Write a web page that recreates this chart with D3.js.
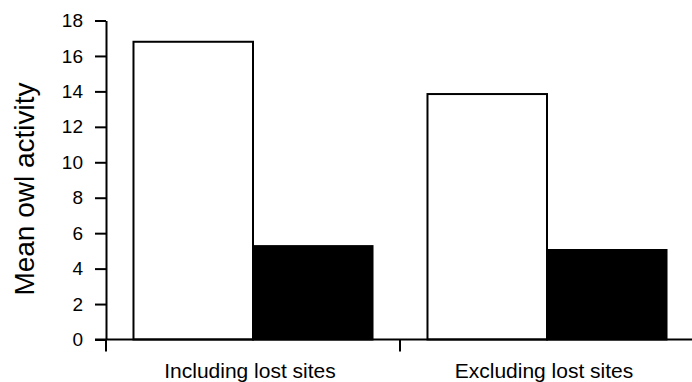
<!DOCTYPE html>
<html>
<head>
<meta charset="utf-8">
<script src="https://cdn.jsdelivr.net/npm/d3@7"></script>
<style>
  body { margin: 0; background: #fff; }
  svg text { font-family: "Liberation Sans", Arial, sans-serif; fill: #000; }
</style>
</head>
<body>
<div id="chart"></div>
<script>
const categories = ["Including lost sites", "Excluding lost sites"];
const series = ["open", "filled"];
const openValues = [16.8, 13.85];
const filledValues = [5.27, 5.05];
const yTicks = [0, 2, 4, 6, 8, 10, 12, 14, 16, 18];

const width = 692, height = 382;

const svg = d3.select("#chart")
    .append("svg")
    .attr("width", width)
    .attr("height", height);

const y = d3.scaleLinear().domain([0, 18]).range([339.5, 20.5]);

const x0 = d3.scaleBand()
    .domain(categories)
    .range([106, 694])
    .padding(0);

const x1 = d3.scaleBand()
    .domain(series)
    .range([0, x0.bandwidth()])
    .paddingInner(0)
    .paddingOuter(0.23);

const data = categories.map((c, i) => ({
    cat: c,
    vals: [
        { key: "open", value: openValues[i] },
        { key: "filled", value: filledValues[i] }
    ]
}));

// bars
const groups = svg.selectAll("g.grp")
    .data(data)
    .enter()
    .append("g")
    .attr("class", "grp")
    .attr("transform", d => `translate(${x0(d.cat)},0)`);

groups.selectAll("rect")
    .data(d => d.vals)
    .enter()
    .append("rect")
    .attr("x", d => x1(d.key))
    .attr("y", d => y(d.value))
    .attr("width", x1.bandwidth())
    .attr("height", d => y(0) - y(d.value))
    .attr("fill", d => d.key === "open" ? "#fff" : "#000")
    .attr("stroke", "#000")
    .attr("stroke-width", 2);

// y axis
const yAxis = svg.append("g")
    .attr("transform", "translate(106,0)")
    .call(d3.axisLeft(y).tickValues(yTicks).tickSize(11).tickSizeOuter(0).tickPadding(12));

yAxis.select(".domain").attr("stroke-width", 2);
yAxis.selectAll(".tick line").attr("stroke-width", 2);
yAxis.selectAll(".tick text")
    .style("font-size", "19px")
    .attr("fill", "#000");

// x axis line
svg.append("line")
    .attr("x1", 95).attr("x2", width)
    .attr("y1", y(0)).attr("y2", y(0))
    .attr("stroke", "#000")
    .attr("stroke-width", 2);

// x ticks at group boundaries
svg.selectAll("line.xtick")
    .data(categories)
    .enter()
    .append("line")
    .attr("class", "xtick")
    .attr("x1", d => x0(d)).attr("x2", d => x0(d))
    .attr("y1", y(0)).attr("y2", y(0) + 12)
    .attr("stroke", "#000")
    .attr("stroke-width", 2);

// x labels
svg.selectAll("text.xlab")
    .data(categories)
    .enter()
    .append("text")
    .attr("class", "xlab")
    .attr("x", d => x0(d) + x0.bandwidth() / 2 - 3)
    .attr("y", 378)
    .attr("text-anchor", "middle")
    .style("font-size", "21px")
    .text(d => d);

// y label
svg.append("text")
    .attr("transform", "translate(34,189) rotate(-90)")
    .attr("text-anchor", "middle")
    .style("font-size", "28px")
    .text("Mean owl activity");
</script>
</body>
</html>
